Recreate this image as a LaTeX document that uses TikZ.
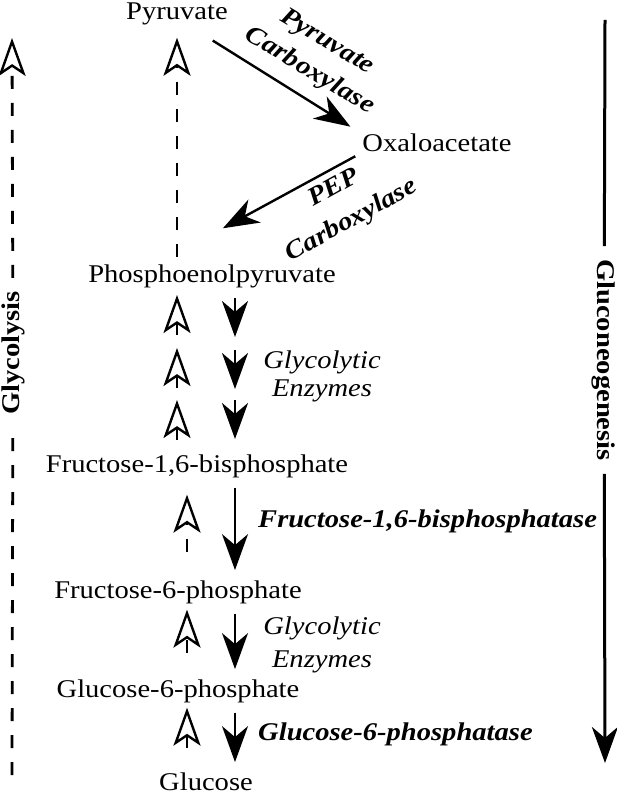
\documentclass[tikz,border=0pt]{standalone}
\usepackage{fontspec}
\setmainfont{Liberation Serif}[FakeStretch=1.12]
\usetikzlibrary{positioning,arrows.meta}

\tikzset{
  metab/.style={anchor=base,inner sep=0pt,font=\fontsize{25.5}{34}\selectfont},
  enzyme/.style={inner sep=0pt,align=center,font=\fontsize{25.5}{34}\selectfont\bfseries\itshape},
  glyco/.style={inner sep=0pt,align=center,font=\fontsize{25.5}{30}\selectfont\itshape},
  side/.style={inner xsep=13pt,inner ysep=0pt,font=\fontsize{25.5}{30}\selectfont\bfseries},
  fwd/.style={line width=2.4pt,-{Stealth[length=36pt,width=26pt,inset=11pt]}},
  rev/.style={line width=2.2pt,dash pattern=on 13pt off 14pt,-{Stealth[open,length=38pt,width=27pt,inset=9pt,line width=2.4pt]}}
}

\begin{document}
\begin{tikzpicture}[x=1pt,y=-1pt]
\useasboundingbox (0,0) rectangle (617,794);

\node[metab] (pyr) at (177,20) {Pyruvate};
\node[metab] (oaa) at (437,152) {Oxaloacetate};
\node[metab] (pep) at (212,282) {Phosphoenolpyruvate};
\node[metab] (f16bp) at (197,472) {Fructose-1,6-bisphosphate};
\node[metab] (f6p) at (178,598) {Fructose-6-phosphate};
\node[metab] (g6p) at (178,697) {Glucose-6-phosphate};
\node[metab] (glc) at (206,790) {Glucose};

\node[enzyme,rotate=-31] (pc) at (318,57) {Pyruvate\\Carboxylase};
\node[enzyme,rotate=29] (pepc) at (343,205) {PEP\\[3pt]Carboxylase};
\node[glyco] (ge1) at (322,376) {Glycolytic\\[-2pt]Enzymes};
\node[enzyme,anchor=base west] (fbpase) at (258,527) {Fructose-1,6-bisphosphatase};
\node[glyco] (ge2) at (322,645) {Glycolytic\\[3pt]Enzymes};
\node[enzyme,anchor=base west] (g6pase) at (258,740) {Glucose-6-phosphatase};
\node[side,rotate=90] (glycolysis) at (13,353) {Glycolysis};
\node[side,rotate=-90] (gng) at (604,360) {Gluconeogenesis};

\coordinate (up) at (187,0);
\coordinate (dn) at (235,0);
\coordinate (gly-bot) at (12,775);
\coordinate (gly-top) at (12,38);
\coordinate (gng-top) at (605,20);
\coordinate (gng-bot) at (605,763);

\draw[fwd,shorten <=28pt,shorten >=14pt] ([xshift=12pt]pyr.south) -- (oaa.north west);
\draw[fwd,shorten <=8pt,shorten >=75pt] (oaa.south west) -- ([xshift=-55pt]pep.north);
\draw[rev,shorten <=7pt,shorten >=12pt] (pep.north -| pyr.south) -- (pyr.south);

\foreach \y in {298,350,400}
  \draw[fwd] (235,\y) -- (235,\y+39);
\foreach \y in {295,348,400}
  \draw[rev] (177,\y+40) -- (177,\y);

\foreach \a/\b in {f16bp/f6p,f6p/g6p,g6p/glc}
  \draw[fwd,shorten <=10pt,shorten >=10pt] (\a.south -| dn) -- (\b.north -| dn);
\draw[rev,shorten <=28pt,shorten >=17pt] (f6p.north -| up) -- (f16bp.south -| up);
\draw[rev,shorten <=26pt,shorten >=6pt] (g6p.north -| up) -- (f6p.south -| up);
\draw[rev,shorten <=24pt,shorten >=5pt] (glc.north -| up) -- (g6p.south -| up);

\draw[rev,line width=2.8pt] (gly-bot) -- (glycolysis) -- (gly-top);
\draw[fwd,line width=3pt] (gng-top) -- (gng) -- (gng-bot);

\end{tikzpicture}
\end{document}
